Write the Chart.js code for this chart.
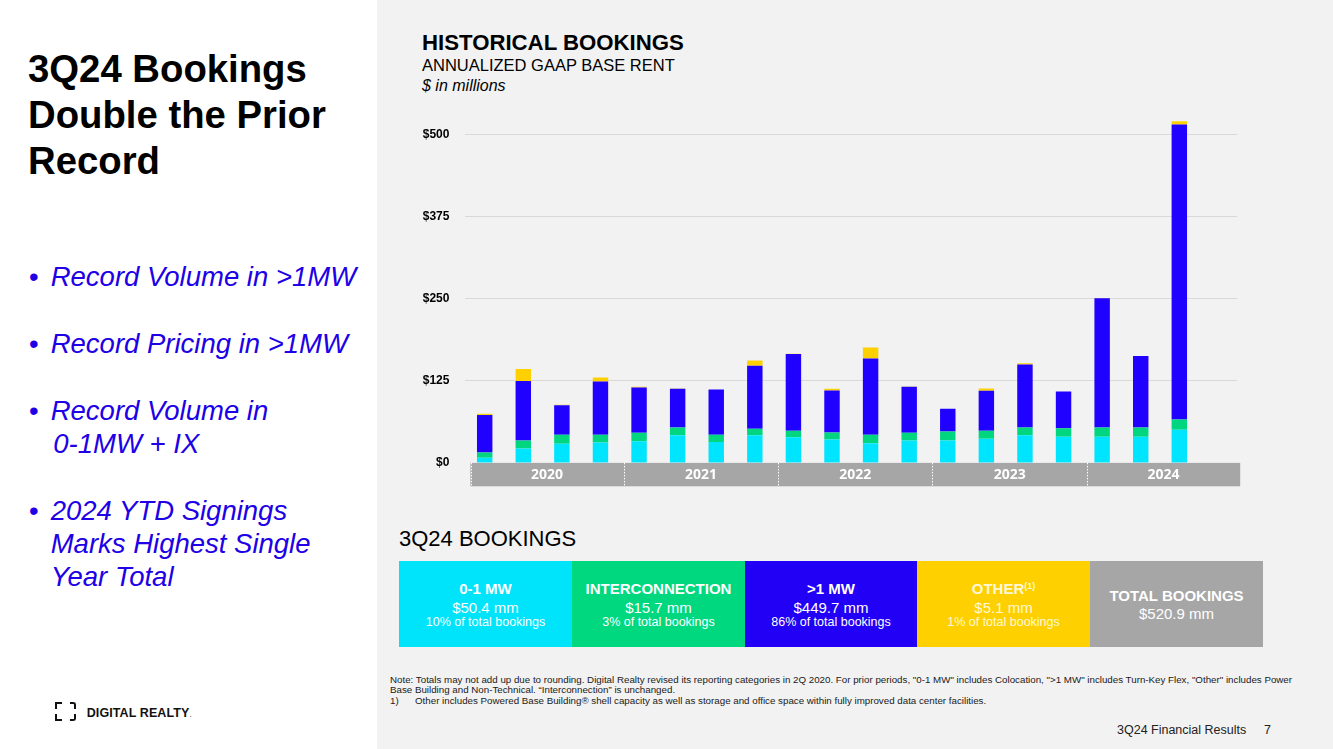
<!DOCTYPE html>
<html><head><meta charset="utf-8">
<script src="https://cdn.jsdelivr.net/npm/chart.js@4.4.1/dist/chart.umd.min.js"></script>
<style>
html,body{margin:0;padding:0;}
body{width:1333px;height:749px;position:relative;overflow:hidden;background:#fff;font-family:"Liberation Sans",Arial,sans-serif;color:#000;}
#right{position:absolute;left:377px;top:0;width:956px;height:749px;background:#f2f2f2;}
.t{position:absolute;white-space:nowrap;line-height:1;}
#title{position:absolute;left:28px;top:45.5px;font-weight:bold;font-size:38.3px;line-height:46px;white-space:nowrap;}
.bl{position:absolute;font-style:italic;font-size:27.5px;line-height:1;color:#2000e6;white-space:nowrap;}
.box{position:absolute;top:561px;height:86px;width:173px;color:#fff;}
.box .t{left:0;width:100%;text-align:center;}
#chartWrap{position:absolute;left:400px;top:92.4px;width:860px;height:400px;}
.fn{position:absolute;left:390px;font-size:9.75px;line-height:1;white-space:nowrap;color:#1a1a1a;}
.ic{position:absolute;border-color:#111;border-style:solid;border-width:0;}
</style></head>
<body>
<div id="right"></div>

<div id="title">3Q24 Bookings<br>Double the Prior<br>Record</div>

<div class="bl" style="left:29px;top:262.7px;font-style:normal">•</div>
<div class="bl" style="left:50.7px;top:262.7px">Record Volume in &gt;1MW</div>
<div class="bl" style="left:29px;top:329.7px;font-style:normal">•</div>
<div class="bl" style="left:50.7px;top:329.7px">Record Pricing in &gt;1MW</div>
<div class="bl" style="left:29px;top:396.7px;font-style:normal">•</div>
<div class="bl" style="left:50.7px;top:396.7px">Record Volume in</div>
<div class="bl" style="left:53.3px;top:430px">0-1MW + IX</div>
<div class="bl" style="left:29px;top:496.7px;font-style:normal">•</div>
<div class="bl" style="left:50.7px;top:496.7px">2024 YTD Signings</div>
<div class="bl" style="left:50.7px;top:530px">Marks Highest Single</div>
<div class="bl" style="left:50.7px;top:562.7px">Year Total</div>

<!-- logo -->
<div class="ic" style="left:55px;top:702px;width:5px;height:5px;border-top-width:2px;border-left-width:2px;"></div>
<div class="ic" style="left:70px;top:702px;width:4px;height:5px;border-top-width:2px;border-right-width:2px;border-top-right-radius:3px;"></div>
<div class="ic" style="left:55px;top:714px;width:5px;height:5px;border-bottom-width:2px;border-left-width:2px;"></div>
<div class="ic" style="left:70px;top:714px;width:4px;height:5px;border-bottom-width:2px;border-right-width:2px;border-bottom-right-radius:3px;"></div>
<div class="t" style="left:86.7px;top:706.7px;font-size:12.5px;font-weight:bold;letter-spacing:0.1px;color:#111">DIGITAL REALTY<span style="color:#888;font-size:8px">.</span></div>

<div class="t" style="left:422px;top:32.4px;font-size:22.2px;font-weight:bold">HISTORICAL BOOKINGS</div>
<div class="t" style="left:422px;top:57.4px;font-size:16.5px">ANNUALIZED GAAP BASE RENT</div>
<div class="t" style="left:422px;top:77.5px;font-size:16px;font-style:italic">$ in millions</div>

<div id="chartWrap"><canvas id="c"></canvas></div>

<div class="t" style="left:399px;top:528px;font-size:22px">3Q24 BOOKINGS</div>

<div class="box" style="left:399px;background:#00e4fb">
  <div class="t" style="top:19.6px;font-size:15px;font-weight:bold">0-1 MW</div>
  <div class="t" style="top:39px;font-size:15px">$50.4 mm</div>
  <div class="t" style="top:55.1px;font-size:12.5px">10% of total bookings</div>
</div>
<div class="box" style="left:572px;background:#00d87f">
  <div class="t" style="top:19.6px;font-size:15px;font-weight:bold">INTERCONNECTION</div>
  <div class="t" style="top:39px;font-size:15px">$15.7 mm</div>
  <div class="t" style="top:55.1px;font-size:12.5px">3% of total bookings</div>
</div>
<div class="box" style="left:744.5px;background:#2200f5">
  <div class="t" style="top:19.6px;font-size:15px;font-weight:bold">&gt;1 MW</div>
  <div class="t" style="top:39px;font-size:15px">$449.7 mm</div>
  <div class="t" style="top:55.1px;font-size:12.5px">86% of total bookings</div>
</div>
<div class="box" style="left:917px;background:#ffd000">
  <div class="t" style="top:19.6px;font-size:15px;font-weight:bold;color:#fff8d8">OTHER<sup style="font-size:9px;vertical-align:5px">(1)</sup></div>
  <div class="t" style="top:39px;font-size:15px;color:#fff8d8">$5.1 mm</div>
  <div class="t" style="top:55.1px;font-size:12.5px;color:#fff8d8">1% of total bookings</div>
</div>
<div class="box" style="left:1090px;background:#a6a6a6">
  <div class="t" style="top:27px;font-size:15px;font-weight:bold">TOTAL BOOKINGS</div>
  <div class="t" style="top:45.3px;font-size:15px">$520.9 mm</div>
</div>

<div class="fn" style="top:674.5px">Note: Totals may not add up due to rounding. Digital Realty revised its reporting categories in 2Q 2020. For prior periods, "0-1 MW" includes Colocation, "&gt;1 MW" includes Turn-Key Flex, "Other" includes Power</div>
<div class="fn" style="top:685px">Base Building and Non-Technical. “Interconnection” is unchanged.</div>
<div class="fn" style="top:695.5px">1)</div>
<div class="fn" style="left:415px;top:695.5px">Other includes Powered Base Building® shell capacity as well as storage and office space within fully improved data center facilities.</div>

<div class="t" style="left:1117px;top:724.4px;font-size:12.5px;color:#222">3Q24 Financial Results</div>
<div class="t" style="left:1264px;top:724.4px;font-size:12.5px;color:#222">7</div>

<script>
const quarters = ['1Q20','2Q20','3Q20','4Q20','1Q21','2Q21','3Q21','4Q21','1Q22','2Q22','3Q22','4Q22','1Q23','2Q23','3Q23','4Q23','1Q24','2Q24','3Q24','4Q24'];
const zeroToOneMW     = [8, 22, 29, 31, 33, 42, 32, 42, 39, 35.5, 30, 34, 34, 37, 42, 40, 40, 40, 50.4, null];
const interconnection = [8, 12, 14, 12, 13, 12, 11, 10, 10, 11, 13, 12, 14, 12, 12, 13, 14, 14, 15.7, null];
const overOneMW       = [57, 91, 45, 81, 69, 59, 69, 96, 117, 64, 116, 70, 34.5, 61, 96, 56, 197, 109, 449.7, null];
const otherBookings   = [2, 18, 0.5, 6, 1, 0.5, 0, 8, 0.5, 2.5, 17, 0.5, 0, 3.5, 2, 0, 0.5, 0, 5.1, null];
const yTicks = [0, 125, 250, 375, 500];
const yMax = 530;

const yearBand = {
  id: 'yearBand',
  afterDraw(chart) {
    const {ctx, chartArea: a, scales: {x}} = chart;
    const slot = x.getPixelForValue(1) - x.getPixelForValue(0);
    const top = a.bottom, h = 23.4, off = 4;
    ctx.save();
    ctx.fillStyle = '#a6a6a6';
    ctx.fillRect(a.left + 5, top, (a.right + 3) - (a.left + 5), h);
    const groups = [];
    quarters.forEach((q, i) => {
      const yr = '20' + q.slice(2);
      if (!groups.length || groups[groups.length - 1].yr !== yr) groups.push({yr, start: i, end: i});
      else groups[groups.length - 1].end = i;
    });
    ctx.strokeStyle = '#ffffff';
    ctx.lineWidth = 1;
    ctx.setLineDash([1.5, 1.5]);
    groups.forEach((g, gi) => {
      const xl = gi === 0 ? a.left + 5.5 : x.getPixelForValue(g.start) - slot / 2 + off;
      ctx.beginPath(); ctx.moveTo(Math.round(xl) + 0.5, top); ctx.lineTo(Math.round(xl) + 0.5, top + h); ctx.stroke();
    });
    ctx.setLineDash([]);
    ctx.fillStyle = '#ffffff';
    ctx.font = 'bold 14px "Open Sans", "Liberation Sans", sans-serif';
    ctx.textAlign = 'center';
    ctx.textBaseline = 'middle';
    groups.forEach((g, gi) => {
      const xl = gi === 0 ? a.left + 5 : x.getPixelForValue(g.start) - slot / 2 + off;
      const xr = gi === groups.length - 1 ? a.right + 3 : x.getPixelForValue(g.end) + slot / 2 + off;
      ctx.fillText(g.yr, (xl + xr) / 2, top + h / 2 + 0.5);
    });
    ctx.restore();
  }
};

new Chart(document.getElementById('c'), {
  type: 'bar',
  data: {
    labels: quarters,
    datasets: [
      {label: '0-1 MW', data: zeroToOneMW, backgroundColor: '#00e5ff'},
      {label: 'Interconnection', data: interconnection, backgroundColor: '#00d67f'},
      {label: '>1 MW', data: overOneMW, backgroundColor: '#2000ff'},
      {label: 'Other', data: otherBookings, backgroundColor: '#ffd000'}
    ]
  },
  options: {
    responsive: true,
    maintainAspectRatio: false,
    animation: false,
    events: [],
    layout: {padding: {top: 0, right: 22.8, bottom: 29.1, left: 0}},
    datasets: {bar: {barPercentage: 0.4, categoryPercentage: 1.0, borderWidth: 0}},
    plugins: {legend: {display: false}, tooltip: {enabled: false}},
    scales: {
      x: {stacked: true, display: false},
      y: {
        stacked: true,
        min: 0, max: yMax,
        afterFit(s) { s.width = 65.4; },
        afterBuildTicks(s) { s.ticks = yTicks.map(v => ({value: v})); },
        border: {display: false},
        grid: {drawTicks: false, color: ctx => (ctx.tick && ctx.tick.value === 0) ? 'rgba(0,0,0,0)' : '#d9d9d9', lineWidth: 1},
        ticks: {
          padding: 16,
          color: '#000',
          font: {family: '"Liberation Sans", Arial, sans-serif', weight: 'bold', size: 12},
          callback: v => '$' + v
        }
      }
    }
  },
  plugins: [yearBand]
});
</script>
</body></html>
